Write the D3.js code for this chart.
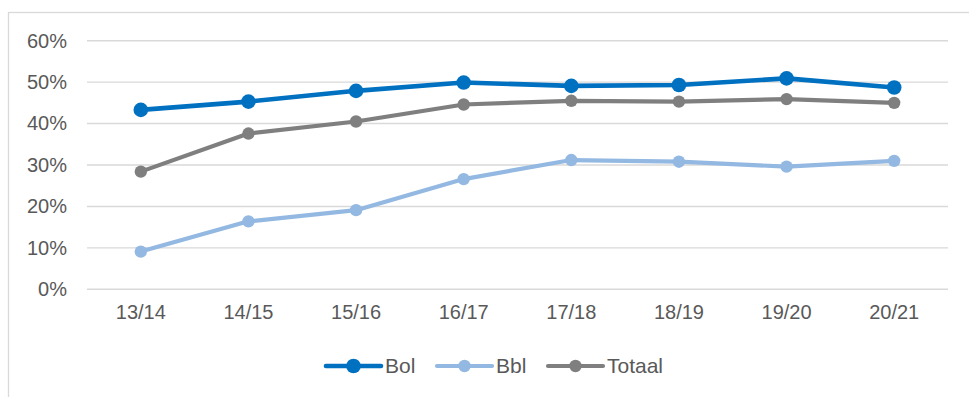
<!DOCTYPE html>
<html>
<head>
<meta charset="utf-8">
<script src="https://cdn.jsdelivr.net/npm/d3@7/dist/d3.min.js"></script>
<style>
  html, body { margin: 0; padding: 0; background: #fff; }
  svg { display: block; font-family: "Liberation Sans", Arial, sans-serif; }
</style>
</head>
<body>
<svg id="chart" width="969" height="397"></svg>
<script>
// School years on the x axis
const years = ["13/14", "14/15", "15/16", "16/17", "17/18", "18/19", "19/20", "20/21"];

// Shares per learning pathway (fractions)
const bol    = [0.433, 0.453, 0.479, 0.499, 0.491, 0.493, 0.509, 0.487];
const bbl    = [0.091, 0.164, 0.191, 0.266, 0.312, 0.308, 0.296, 0.310];
const totaal = [0.284, 0.376, 0.405, 0.446, 0.455, 0.453, 0.459, 0.450];

// Y axis ticks
const yTicks = [0, 0.1, 0.2, 0.3, 0.4, 0.5, 0.6];

const seriesNames  = ["Bol", "Bbl", "Totaal"];
const seriesValues = [bol, bbl, totaal];

const style = {
  Bol:    { color: "#0070C0", width: 4.6, r: 7.3 },
  Bbl:    { color: "#93B8E2", width: 4.2, r: 6.2 },
  Totaal: { color: "#7F7F7F", width: 4.2, r: 6.2 }
};

const svg = d3.select("#chart");

// Outer frame
svg.append("rect")
  .attr("x", 8.5).attr("y", 12.5)
  .attr("width", 980).attr("height", 400)
  .attr("fill", "none")
  .attr("stroke", "#D9D9D9")
  .attr("stroke-width", 1.3);

const plot = { left: 87, right: 948, top: 40.7, bottom: 289.3 };

const x = d3.scaleBand().domain(years).range([plot.left, plot.right]);
const y = d3.scaleLinear().domain([0, 0.6]).range([plot.bottom, plot.top]);

// Horizontal gridlines
svg.append("g")
  .selectAll("line")
  .data(yTicks)
  .join("line")
  .attr("x1", plot.left).attr("x2", plot.right)
  .attr("y1", d => y(d)).attr("y2", d => y(d))
  .attr("stroke", "#D9D9D9")
  .attr("stroke-width", 1.4);

// Y axis labels
const yAxis = d3.axisLeft(y).tickValues(yTicks).tickFormat(d3.format(".0%")).tickSize(0).tickPadding(0);
svg.append("g")
  .attr("transform", `translate(67,0)`)
  .call(yAxis)
  .call(g => g.select(".domain").remove())
  .call(g => g.selectAll("text")
    .attr("fill", "#595959")
    .style("font-size", "20px")
    .style("font-family", "'Liberation Sans', Arial, sans-serif"));

// X axis labels
const xAxis = d3.axisBottom(x).tickSize(0).tickPadding(0);
svg.append("g")
  .attr("transform", `translate(0,${plot.bottom + 15})`)
  .call(xAxis)
  .call(g => g.select(".domain").remove())
  .call(g => g.selectAll("text")
    .attr("fill", "#595959")
    .style("font-size", "20px")
    .style("font-family", "'Liberation Sans', Arial, sans-serif"));

const cx = d => x(d) + x.bandwidth() / 2;

// Lines and markers, Bol drawn last so it sits on top
const drawOrder = [1, 2, 0];
drawOrder.forEach(i => {
  const name = seriesNames[i];
  const vals = seriesValues[i];
  const s = style[name];
  const pts = years.map((yr, j) => [cx(yr), y(vals[j])]);
  const g = svg.append("g").attr("class", "series-" + name);
  g.append("path")
    .attr("d", d3.line()(pts))
    .attr("fill", "none")
    .attr("stroke", s.color)
    .attr("stroke-width", s.width)
    .attr("stroke-linejoin", "round")
    .attr("stroke-linecap", "round");
  g.selectAll("circle")
    .data(pts)
    .join("circle")
    .attr("cx", d => d[0]).attr("cy", d => d[1])
    .attr("r", s.r)
    .attr("fill", s.color);
});

// Legend
const legendItems = [
  { name: "Bol",    x: 326 },
  { name: "Bbl",    x: 437 },
  { name: "Totaal", x: 548 }
];
const legendY = 366;
const lg = svg.append("g").attr("class", "legend");
legendItems.forEach(item => {
  const s = style[item.name];
  lg.append("line")
    .attr("x1", item.x).attr("x2", item.x + 55)
    .attr("y1", legendY).attr("y2", legendY)
    .attr("stroke", s.color)
    .attr("stroke-width", s.width)
    .attr("stroke-linecap", "round");
  lg.append("circle")
    .attr("cx", item.x + 27.5).attr("cy", legendY)
    .attr("r", s.r)
    .attr("fill", s.color);
  lg.append("text")
    .attr("x", item.x + 59).attr("y", legendY)
    .attr("dy", "0.35em")
    .attr("fill", "#595959")
    .style("font-size", "21px")
    .text(item.name);
});
</script>
</body>
</html>
